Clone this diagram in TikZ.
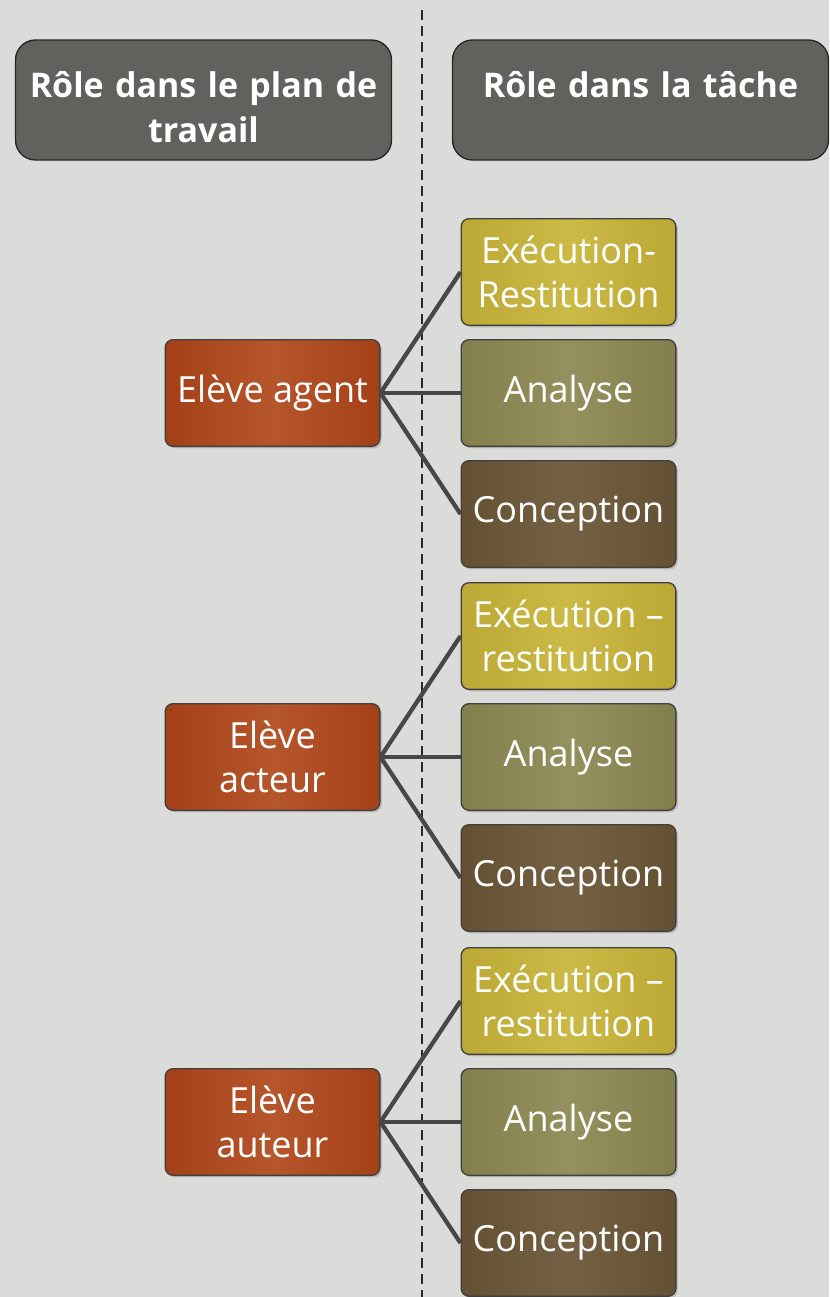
\documentclass[tikz,border=0pt]{standalone}
\usepackage{fontspec}
\setmainfont{Open Sans}
\usetikzlibrary{shadows}
\definecolor{canvas}{RGB}{219,219,217}
\definecolor{headgray}{RGB}{97,97,94}
\definecolor{orangedark}{RGB}{164,64,24}
\definecolor{orangelight}{RGB}{182,86,44}
\definecolor{yellowdark}{RGB}{188,168,52}
\definecolor{yellowlight}{RGB}{204,186,70}
\definecolor{olivedark}{RGB}{130,127,76}
\definecolor{olivelight}{RGB}{148,145,94}
\definecolor{browndark}{RGB}{100,80,50}
\definecolor{brownlight}{RGB}{116,96,66}
\definecolor{divider}{RGB}{50,36,42}
\tikzset{
  head/.style={draw=black!85, line width=1pt, fill=headgray, rounded corners=15pt,
    text=white, font=\bfseries\fontsize{25.5}{33.75}\selectfont, align=center,
    minimum width=282pt, minimum height=90pt, text width=278pt, inner sep=0pt,
    text depth=24pt},
  box/.style={draw=black!75, line width=1pt, rounded corners=6pt, text=white,
    font=\fontsize{27}{33}\selectfont, align=center, minimum width=161pt,
    minimum height=80pt, inner sep=0pt,
    drop shadow={opacity=0.35, shadow xshift=1.5pt, shadow yshift=-1.5pt}},
  role/.style={box, left color=orangedark, right color=orangedark, middle color=orangelight},
  exec/.style={box, left color=yellowdark, right color=yellowdark, middle color=yellowlight},
  analyse/.style={box, left color=olivedark, right color=olivedark, middle color=olivelight},
  conc/.style={box, left color=browndark, right color=browndark, middle color=brownlight},
  link/.style={draw=black!72, line width=3.2pt}
}
\begin{document}
\begin{tikzpicture}[x=0.75pt, y=-0.75pt]
  \useasboundingbox (0,0) rectangle (829,1297);
  \fill[canvas] (0,0) rectangle (829,1297);
  \coordinate (divtop) at (422,10);
  \coordinate (divbot) at (422,1297);
  \draw[divider, line width=1.6pt, dash pattern=on 7.5pt off 4.5pt] (divtop) -- (divbot);

  \node[head] (plan) at (203.5,100) {Rôle dans le plan de\\travail};
  \node[head] (tache) at (640.5,100) {Rôle dans la tâche};

  \node[role] (agent) at (272.5,393) {Elève agent};
  \node[exec] (exec1) at (568.5,272) {Exécution-\\Restitution};
  \node[analyse] (ana1) at (568.5,393) {Analyse};
  \node[conc] (conc1) at (568.5,514) {Conception};

  \node[role] (acteur) at (272.5,757) {Elève\\acteur};
  \node[exec] (exec2) at (568.5,636) {Exécution –\\restitution};
  \node[analyse] (ana2) at (568.5,757) {Analyse};
  \node[conc] (conc2) at (568.5,878) {Conception};

  \node[role] (auteur) at (272.5,1122) {Elève\\auteur};
  \node[exec] (exec3) at (568.5,1001) {Exécution –\\restitution};
  \node[analyse] (ana3) at (568.5,1122) {Analyse};
  \node[conc] (conc3) at (568.5,1243) {Conception};

  \foreach \r/\i in {agent/1, acteur/2, auteur/3}
    \foreach \c in {exec, ana, conc}
      \draw[link] (\r.east) -- (\c\i.west);
\end{tikzpicture}
\end{document}
